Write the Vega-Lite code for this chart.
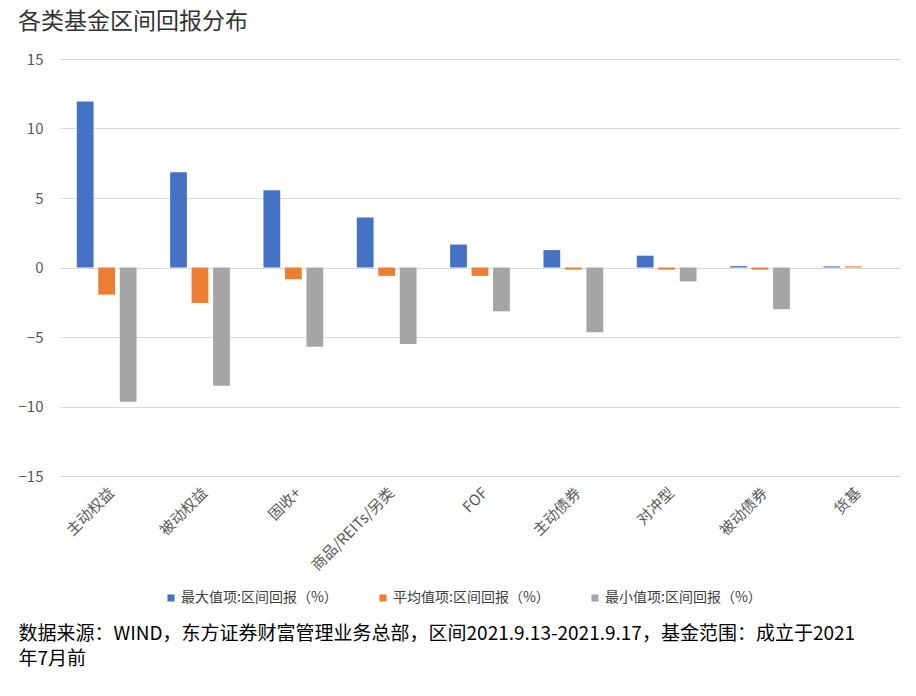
{
  "$schema": "https://vega.github.io/schema/vega-lite/v6.json",
  "autosize": "none",
  "width": 840,
  "height": 417,
  "padding": {"left": 60, "top": 59, "right": 16, "bottom": 220},
  "background": "white",
  "config": {
    "font": "Noto Sans CJK SC",
    "view": {"stroke": null}
  },
  "title": {
    "text": "各类基金区间回报分布",
    "anchor": "start",
    "frame": "group",
    "dx": -42,
    "offset": 18,
    "fontSize": 23,
    "fontWeight": "normal",
    "color": "#333333",
    "font": "Noto Sans CJK SC"
  },
  "data": {
    "values": [
      {"类别": "主动权益", "系列": "最大值项:区间回报（%）", "值": 11.95},
      {"类别": "主动权益", "系列": "平均值项:区间回报（%）", "值": -1.95},
      {"类别": "主动权益", "系列": "最小值项:区间回报（%）", "值": -9.65},
      {"类别": "被动权益", "系列": "最大值项:区间回报（%）", "值": 6.85},
      {"类别": "被动权益", "系列": "平均值项:区间回报（%）", "值": -2.55},
      {"类别": "被动权益", "系列": "最小值项:区间回报（%）", "值": -8.5},
      {"类别": "固收+", "系列": "最大值项:区间回报（%）", "值": 5.55},
      {"类别": "固收+", "系列": "平均值项:区间回报（%）", "值": -0.85},
      {"类别": "固收+", "系列": "最小值项:区间回报（%）", "值": -5.7},
      {"类别": "商品/REITs/另类", "系列": "最大值项:区间回报（%）", "值": 3.6},
      {"类别": "商品/REITs/另类", "系列": "平均值项:区间回报（%）", "值": -0.6},
      {"类别": "商品/REITs/另类", "系列": "最小值项:区间回报（%）", "值": -5.5},
      {"类别": "FOF", "系列": "最大值项:区间回报（%）", "值": 1.65},
      {"类别": "FOF", "系列": "平均值项:区间回报（%）", "值": -0.6},
      {"类别": "FOF", "系列": "最小值项:区间回报（%）", "值": -3.15},
      {"类别": "主动债券", "系列": "最大值项:区间回报（%）", "值": 1.25},
      {"类别": "主动债券", "系列": "平均值项:区间回报（%）", "值": -0.15},
      {"类别": "主动债券", "系列": "最小值项:区间回报（%）", "值": -4.65},
      {"类别": "对冲型", "系列": "最大值项:区间回报（%）", "值": 0.85},
      {"类别": "对冲型", "系列": "平均值项:区间回报（%）", "值": -0.15},
      {"类别": "对冲型", "系列": "最小值项:区间回报（%）", "值": -1.0},
      {"类别": "被动债券", "系列": "最大值项:区间回报（%）", "值": 0.1},
      {"类别": "被动债券", "系列": "平均值项:区间回报（%）", "值": -0.15},
      {"类别": "被动债券", "系列": "最小值项:区间回报（%）", "值": -3.0},
      {"类别": "货基", "系列": "最大值项:区间回报（%）", "值": 0.08},
      {"类别": "货基", "系列": "平均值项:区间回报（%）", "值": 0.08},
      {"类别": "货基", "系列": "最小值项:区间回报（%）", "值": 0.0}
    ]
  },
  "mark": {"type": "bar"},
  "encoding": {
    "x": {
      "field": "类别",
      "type": "nominal",
      "sort": null,
      "scale": {"paddingInner": 0.36, "paddingOuter": 0.18},
      "axis": {
        "title": ["数据来源：WIND，东方证券财富管理业务总部，区间2021.9.13-2021.9.17，基金范围：成立于2021", "年7月前"],
        "titleFontSize": 19,
        "titleFontWeight": "normal",
        "titleColor": "#000000",
        "titleAnchor": "start",
        "titleAlign": "left",
        "titleBaseline": "top",
        "titleX": -42,
        "titleY": 148,
        "titleLineHeight": 25,
        "labelAngle": -45,
        "labelFontSize": 15,
        "labelColor": "#595959",
        "labelPadding": 9,
        "domain": false,
        "ticks": false,
        "grid": false
      }
    },
    "xOffset": {
      "field": "系列",
      "type": "nominal",
      "sort": ["最大值项:区间回报（%）", "平均值项:区间回报（%）", "最小值项:区间回报（%）"],
      "scale": {"paddingInner": 0.22}
    },
    "y": {
      "field": "值",
      "type": "quantitative",
      "scale": {"domain": [-15, 15], "nice": false},
      "axis": {
        "title": null,
        "values": [-15, -10, -5, 0, 5, 10, 15],
        "labelFontSize": 15,
        "labelColor": "#595959",
        "labelPadding": 17,
        "domain": false,
        "ticks": false,
        "gridColor": "#d9d9d9",
        "gridWidth": 1
      }
    },
    "color": {
      "field": "系列",
      "type": "nominal",
      "sort": ["最大值项:区间回报（%）", "平均值项:区间回报（%）", "最小值项:区间回报（%）"],
      "scale": {"range": ["#4472C4", "#ED7D31", "#A5A5A5"]},
      "legend": {
        "title": null,
        "orient": "none",
        "direction": "horizontal",
        "legendX": 104,
        "legendY": 532,
        "symbolType": "square",
        "symbolSize": 50,
        "symbolOffset": 0,
        "labelOffset": 3,
        "labelFontSize": 14,
        "labelColor": "#404040",
        "labelLimit": 300,
        "columnPadding": 38
      }
    }
  }
}
